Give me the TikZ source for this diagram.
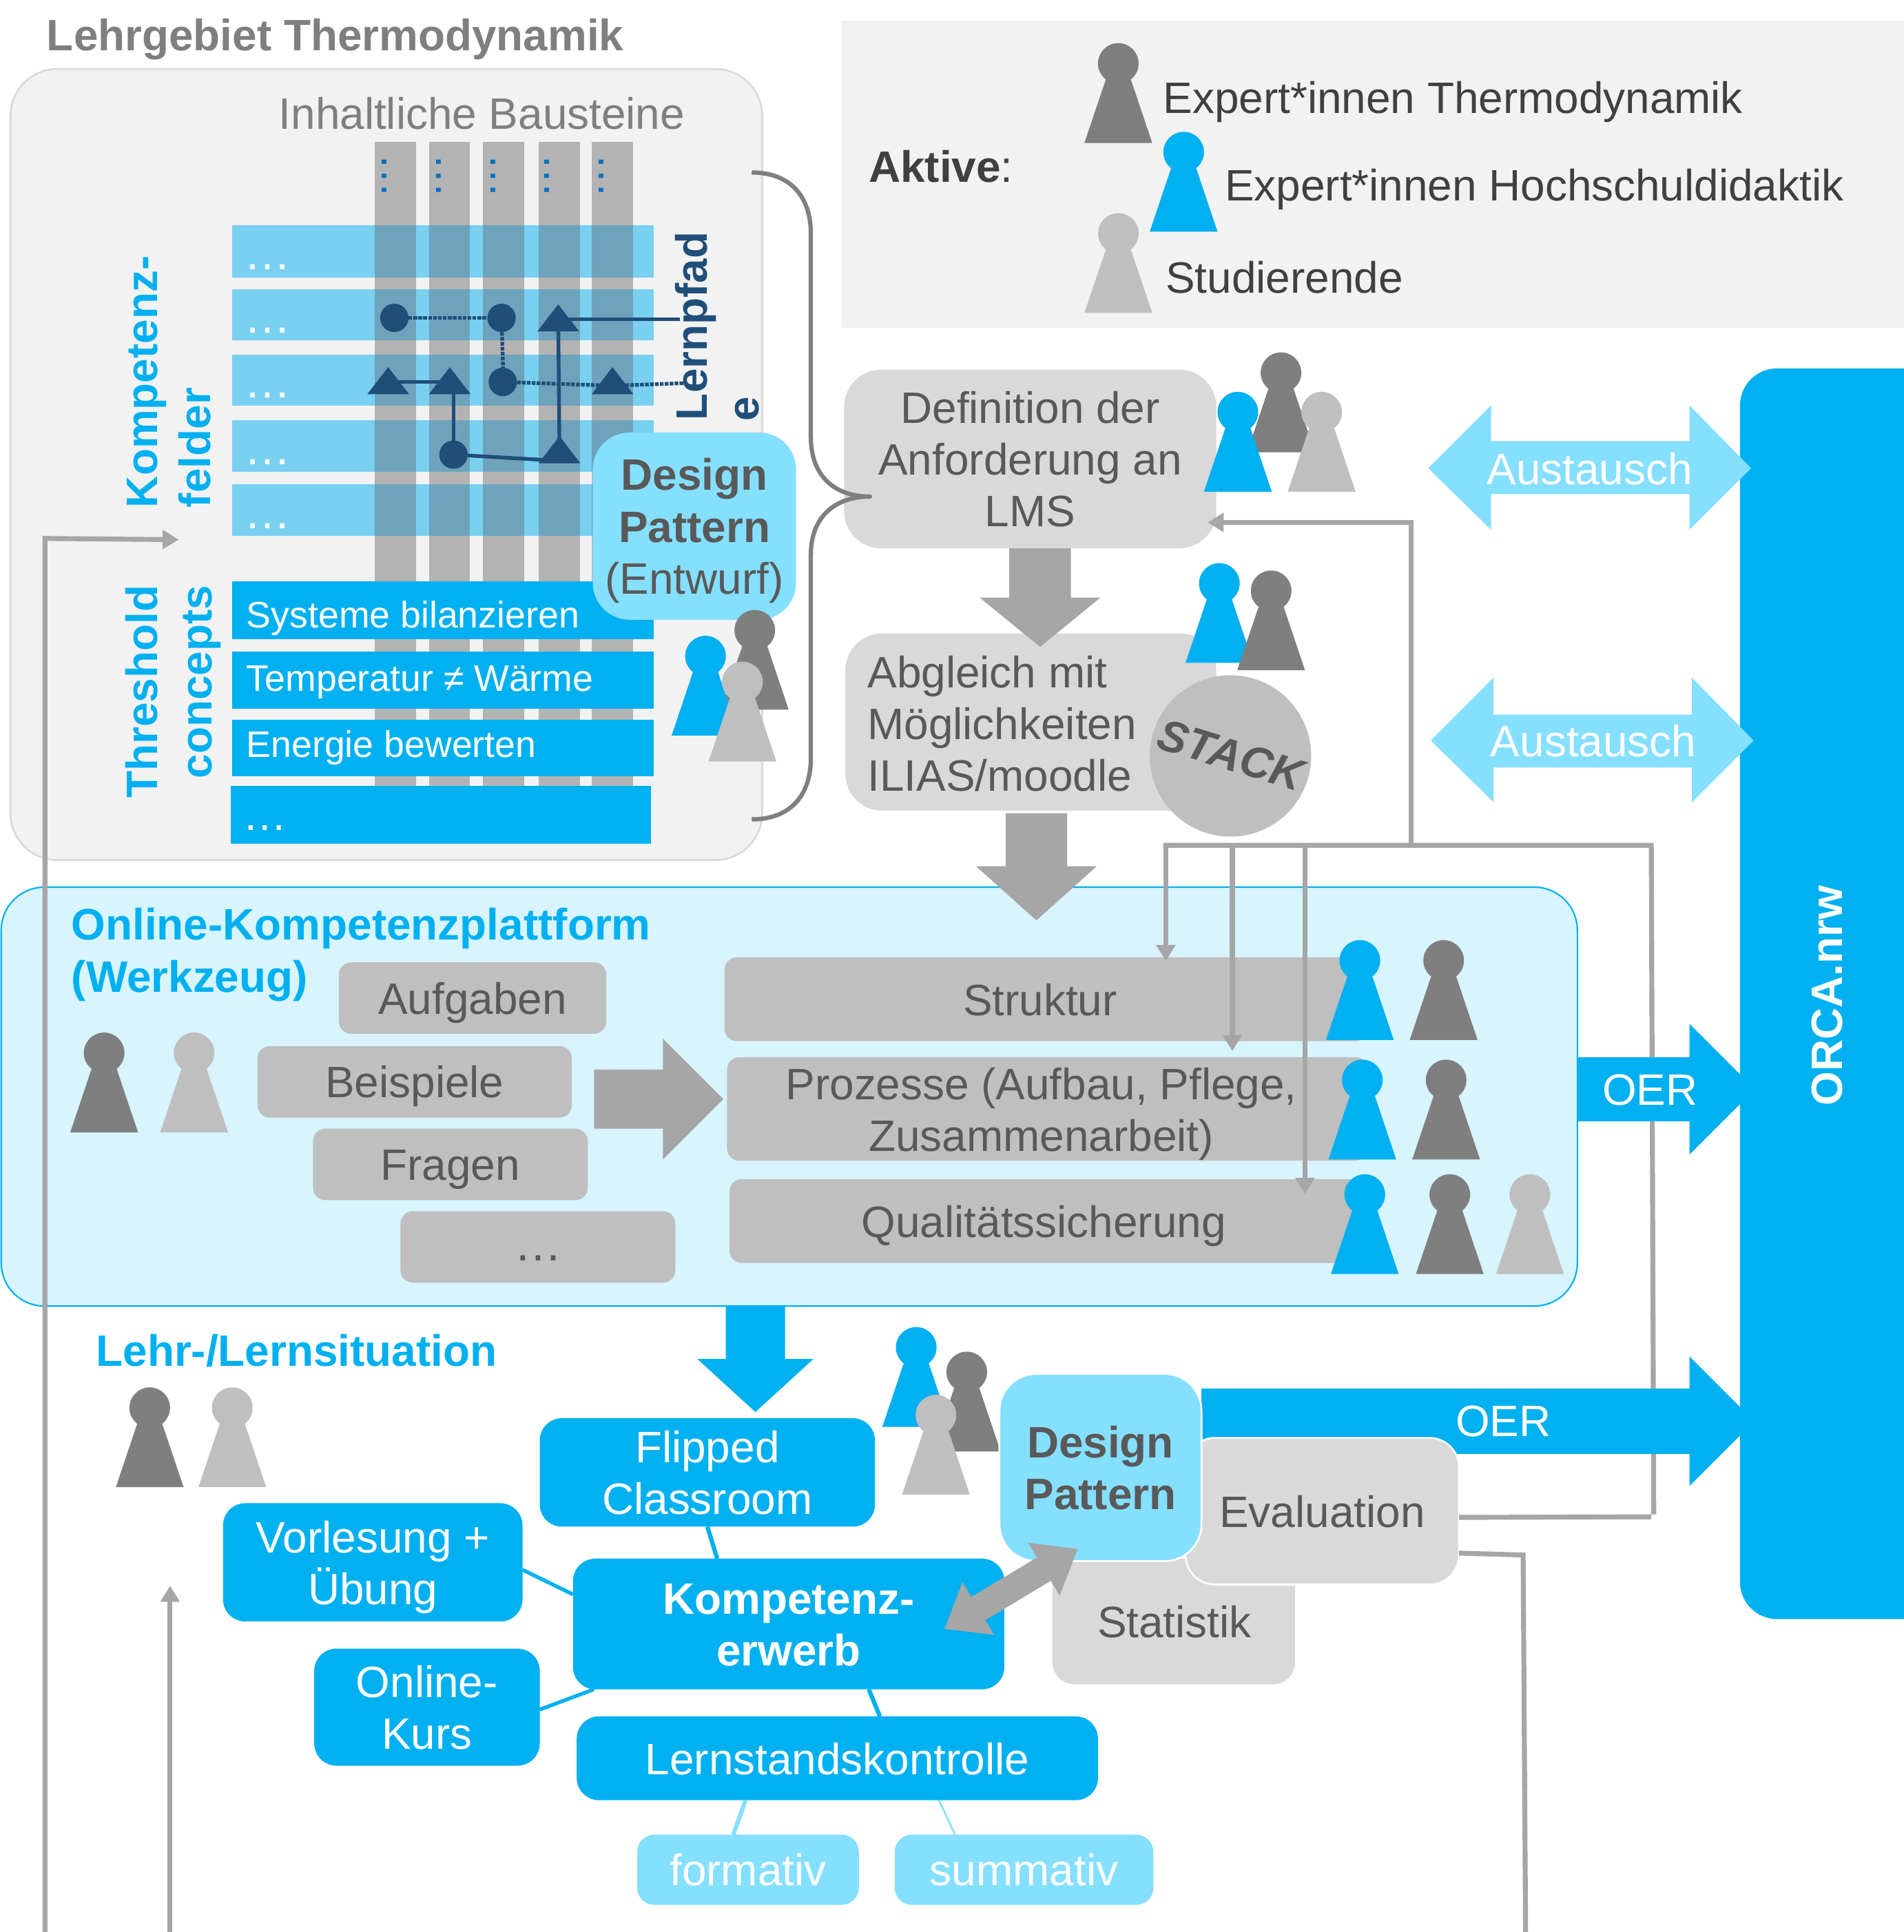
\documentclass[tikz,border=0pt]{standalone}
\usepackage{fontspec}
\setmainfont{Liberation Sans}
\usetikzlibrary{arrows.meta,calc}
\definecolor{cblue}{HTML}{00B0F0}
\definecolor{clight}{HTML}{85DFFF}
\definecolor{cpale}{HTML}{D7F4FF}
\definecolor{cdark}{HTML}{7F7F7F}
\definecolor{cmid}{HTML}{BFBFBF}
\definecolor{cbox}{HTML}{D9D9D9}
\definecolor{carrow}{HTML}{A6A6A6}
\definecolor{cbg}{HTML}{F2F2F2}
\definecolor{ctext}{HTML}{595959}
\definecolor{cnavy}{HTML}{1F4E79}
\definecolor{ccol}{HTML}{B3B3B3}
\definecolor{cband}{HTML}{79D0F1}
\definecolor{ccross}{HTML}{6DA3BB}
\definecolor{cdots}{HTML}{0070C0}
\definecolor{clegend}{HTML}{404040}
\newcommand\fs[1]{\fontsize{#1}{42}\selectfont}
\newcommand\nd[1]{\raisebox{0pt}[26pt][0pt]{#1}}
\newcommand\person[3]{%
  \fill[#3] (#1+0.5-27.5,#2) -- (#1+0.5+27.5,#2) -- (#1+0.5+9,#2-55) -- (#1+0.5-9,#2-55) -- cycle;
  \fill[#3] (#1+0.5,#2-64.5) circle (16.5);}
\newcommand\bx[7]{\node[#6,minimum width={(#4-#2)*1pt},minimum height={(#5-#3)*1pt}] (#1) at ({(#2+#4)/2},{(#3+#5)/2}) {#7};}
\newcommand\tri[3]{\coordinate (#1) at (#2,#3-10);\fill[cnavy] (#2-17,#3) -- (#2+17,#3) -- (#2,#3-22) -- cycle;}
\tikzset{
  every node/.style={inner sep=0pt,outer sep=0pt,align=center},
  sl/.style={text height=26pt,text depth=0pt},
  t/.style={font=\fs{35.7},text=ctext},
  tw/.style={font=\fs{35.7},text=white},
  head/.style={font=\bfseries\fs{35.7},text=cblue,sl},
  legendtext/.style={font=\fs{35.7},text=clegend,sl,anchor=west},
  bandtext/.style={font=\fs{30},text=white,text height=21.5pt,text depth=0pt,anchor=west},
  roundgrey/.style={fill=cmid,rounded corners=10pt,t},
  bluebox/.style={fill=cblue,rounded corners=18pt,tw},
  lightbox/.style={fill=clight,rounded corners=14pt,tw},
  feed/.style={draw=carrow,line width=4pt,-{Triangle[length=13pt,width=15pt]}},
  feedplain/.style={draw=carrow,line width=4pt},
  link/.style={draw=cblue,line width=3.5pt},
  lightlink/.style={draw=clight,line width=3.5pt},
  pathsolid/.style={draw=cnavy,line width=3pt},
  pathdot/.style={draw=cnavy,line width=3pt,densely dotted},
  pathdotnode/.style={circle,fill=cnavy,minimum size=23pt},
  dots/.style={font=\fs{38},text=white},
  rot/.style={rotate=90,font=\bfseries\fs{35.7},text=cblue,sl},
}
\begin{document}
\begin{tikzpicture}[x=1pt,y=-1pt]
\useasboundingbox (0,0) rectangle (1545,1568);
% --- Lehrgebiet
\node[anchor=west,font=\bfseries\fs{35.7},text=cdark,sl] (title) at (38,28) {Lehrgebiet Thermodynamik};
\bx{lehr}{8.5}{56}{618.5}{698}{fill=cbg,draw=cbox,line width=1.5pt,rounded corners=38pt}{}
\node[font=\fs{35.7},text=cdark,sl] (inh) at (391,92) {Inhaltliche Bausteine};
\foreach \xa in {304,348,392,437,480} \fill[ccol] (\xa,115) rectangle (\xa+33.5,640);
\foreach \ya/\yb in {183/225,235/276,288/329,341/383,393/435}{
  \fill[cband] (188.5,\ya) rectangle (530.5,\yb);
  \foreach \xa in {304,348,392,437,480} \fill[ccross] (\xa,\ya) rectangle (\xa+33.5,\yb);
  \node[dots] at (217,\yb-8) {…};
}
\foreach \xa in {312,356,400,444,488} \node[rotate=-90,font=\fs{36},text=cdots] at (\xa,143) {…};
\bx{th1}{188.5}{472}{530.5}{519}{fill=cblue}{}
\bx{th2}{188.5}{529}{530.5}{575}{fill=cblue}{}
\bx{th3}{188.5}{584}{530.5}{630}{fill=cblue}{}
\bx{th4}{187}{638}{528.5}{685}{fill=cblue}{}
\node[bandtext] at (200,499) {Systeme bilanzieren};
\node[bandtext] at (200,550) {Temperatur ≠ Wärme};
\node[bandtext] at (200,604) {Energie bewerten};
\node[font=\fs{36},text=white] at (215,672) {…};
% rotated labels
\node[rot,anchor=west] at (115,412) {Kompetenz-};
\node[rot,anchor=west] at (158,412) {felder};
\node[rot,anchor=east] at (115,475) {Threshold};
\node[rot,anchor=east] at (159,475) {concepts};
% Lernpfad
\node[pathdotnode] (d1) at (320,258) {};
\node[pathdotnode] (d2) at (407,258) {};
\node[pathdotnode] (d3) at (408,310) {};
\node[pathdotnode] (d4) at (368,369) {};
\tri{t1}{315}{320}\tri{t2}{365}{320}\tri{t3}{453}{269}\tri{t4}{497}{320}\tri{t5}{454}{376}
\coordinate (lp1) at (552,259);
\coordinate (lp2) at (555,311);
\draw[pathdot] (d1) -- (d2);
\draw[pathdot] ([xshift=2pt]d2) -- ([xshift=2pt]d3);
\draw[pathdot] ([yshift=-3pt]d3) -- ([yshift=-3pt]t4) -- (lp2);
\draw[pathsolid] (t1) -- (t2);
\draw[pathsolid] ([xshift=3pt]t2) -- (d4);
\draw[pathsolid] ([yshift=-4pt]d4) -- ([yshift=-8pt]t5);
\draw[pathsolid] (t5) -- (t3);
\draw[pathsolid] (t3) -- (lp1);
\node[rotate=90,anchor=west,font=\bfseries\fs{35.7},text=cnavy,sl] at (561,341) {Lernpfad};
\node[rotate=90,anchor=west,font=\bfseries\fs{35.7},text=cnavy,sl] at (603,342) {e};
\bx{dpa}{481}{351}{646}{503}{fill=clight,rounded corners=30pt,t}{\nd{\bfseries Design}\\\nd{\bfseries Pattern}\\\nd{(Entwurf)}}
\person{612}{576}{cdark}\person{572}{597}{cblue}\person{602}{618}{cmid}
% --- legend
\fill[cbg] (683,17) rectangle (1545,266);
\node[legendtext] at (705,135) {\textbf{Aktive}:};
\person{907}{116}{cdark}\person{960}{188}{cblue}\person{907}{254}{cmid}
\node[legendtext] at (944,79) {Expert*innen Thermodynamik};
\node[legendtext] at (994,150) {Expert*innen Hochschuldidaktik};
\node[legendtext] at (946,225) {Studierende};
% --- platform
\bx{plat}{1}{720}{1280}{1060}{fill=cpale,draw=cblue,line width=1.2pt,rounded corners=35pt}{}
\node[anchor=west,head] at (58,750) {Online-Kompetenzplattform};
\node[anchor=west,head] at (58,792) {(Werkzeug)};
\person{84}{919}{cdark}\person{157}{919}{cmid}
\bx{auf}{275}{781}{492}{839}{roundgrey,sl}{Aufgaben}
\bx{bei}{209}{849}{464}{907}{roundgrey,sl}{Beispiele}
\bx{fra}{254}{916}{477}{974}{roundgrey,sl}{Fragen}
\bx{mor}{325}{983}{548}{1041}{roundgrey}{}
\node[font=\fs{39},text=ctext] at (437,1021) {…};
\fill[carrow] (482,868) -- (538,868) -- (538,843) -- (587,892) -- (538,941) -- (538,916) -- (482,916) -- cycle;
\bx{str}{588}{777}{1110}{845}{roundgrey}{}
\node[t,sl] at (844,811) {Struktur};
\bx{pro}{590}{858}{1110}{942}{roundgrey}{}
\node[t] at (845,900.5) {\nd{Prozesse (Aufbau, Pflege,}\\\nd{Zusammenarbeit)}};
\bx{qua}{592}{957}{1110}{1025}{roundgrey}{}
\node[t,sl] at (847,991) {Qualitätssicherung};
\person{1103}{844}{cblue}\person{1171}{844}{cdark}
\person{1105}{941}{cblue}\person{1173}{941}{cdark}
\person{1107}{1034}{cblue}\person{1176}{1034}{cdark}\person{1241}{1034}{cmid}
% --- Definition / Abgleich
\bx{abg}{686}{514}{987}{658}{fill=cbox,rounded corners=30pt}{}
\node[anchor=west,t,align=left] at (704,587) {\nd{Abgleich mit}\\\nd{Möglichkeiten}\\\nd{ILIAS/moodle}};
\bx{stack}{933}{548}{1064}{679}{circle,fill=cmid}{}
\node[rotate=-17,font=\bfseries\itshape\fs{36},text=ctext,sl] at (999,612) {STACK};
\bx{def}{685}{300}{987}{445}{fill=cbox,rounded corners=30pt,t}{\nd{Definition der}\\\nd{Anforderung an}\\\nd{LMS}}
\person{1039}{367}{cdark}\person{1004}{399}{cblue}\person{1072}{399}{cmid}
\person{989}{538}{cblue}\person{1031}{544}{cdark}
\fill[carrow] (819,445) -- (869,445) -- (869,485) -- (893,485) -- (844,525) -- (795,485) -- (819,485) -- cycle;
\fill[carrow] (816,660) -- (866,660) -- (866,703) -- (890,703) -- (841,747) -- (792,703) -- (816,703) -- cycle;
% brace
\coordinate (brT) at (610,140);\coordinate (brM) at (706,403);\coordinate (brB) at (610,665);
\draw[cdark,line width=3.5pt,line join=round] (brT) .. controls (640,140) and (658,158) .. (658,190) -- (658,355) .. controls (658,385) and (676,403) .. (brM) .. controls (676,403) and (658,421) .. (658,450) -- (658,615) .. controls (658,647) and (640,665) .. (brB);
% thin feedback lines
\coordinate (hubL) at (946,686);\coordinate (hubM) at (1000,686);\coordinate (hubR) at (1059,686);\coordinate (hubU) at (1145,686);\coordinate (hubE) at (1338,686);
\coordinate (a1) at (946,780);\coordinate (a2) at (1000,853);\coordinate (a3) at (1059,969);
\coordinate (corn1) at (1340,1231);\coordinate (corn2) at (1236,1262);\coordinate (bot3) at (1238,1568);
\draw[feedplain,line join=miter] ([xshift=-2pt]hubL) -- ([xshift=2pt]hubE) -- ([xshift=2pt,yshift=2pt]corn1);
\draw[feed] (hubL) -- (a1);
\draw[feed] (hubM) -- (a2);
\draw[feed] (hubR) -- (a3);
\draw[feed] (hubU) |- ([xshift=-7pt,yshift=-51.5pt]def.east);
% --- ORCA
\begin{scope}
\clip (0,0) rectangle (1545,1568);
\fill[cblue] (1280,858) -- (1371,858) -- (1371,831) -- (1424,884) -- (1371,937) -- (1371,910) -- (1280,910) -- cycle;
\fill[cblue,rounded corners=30pt] (1412,299) rectangle (1580,1314);
\end{scope}
\node[rotate=90,font=\bfseries\fs{35.7},text=white,sl] (orca) at (1482,808) {ORCA.nrw};
\node[tw,sl] (oer1) at (1339,884) {OER};
\fill[clight] (1159,380) -- (1210,329) -- (1210,358) -- (1371,358) -- (1371,329) -- (1421,380) -- (1371,430) -- (1371,401) -- (1210,401) -- (1210,430) -- cycle;
\node[tw,sl] at (1290,380) {Austausch};
\fill[clight] (1161,601) -- (1212,550) -- (1212,580) -- (1373,580) -- (1373,550) -- (1423,601) -- (1373,651) -- (1373,623) -- (1212,623) -- (1212,651) -- cycle;
\node[tw,sl] at (1293,601) {Austausch};
% --- Lehr-/Lernsituation
\fill[cblue] (589,1060) -- (637,1060) -- (637,1103) -- (660,1103) -- (613,1146) -- (566,1103) -- (589,1103) -- cycle;
\node[anchor=west,head] at (78,1096) {Lehr-/Lernsituation};
\person{121}{1207}{cdark}\person{188}{1207}{cmid}
\person{743}{1158}{cblue}\person{784}{1178}{cdark}\person{759}{1213}{cmid}
\bx{fli}{438}{1151}{710}{1239}{bluebox}{\nd{Flipped}\\\nd{Classroom}}
\bx{vor}{181}{1220}{424}{1316}{bluebox}{\nd{Vorlesung +}\\\nd{Übung}}
\bx{onl}{255}{1338}{438}{1433}{bluebox}{\nd{Online-}\\\nd{Kurs}}
\bx{kom}{465}{1265}{815}{1371}{bluebox,font=\bfseries\fs{35.7}}{\nd{Kompetenz-}\\\nd{erwerb}}
\bx{ler}{468}{1393}{891}{1461}{bluebox,sl}{Lernstandskontrolle}
\bx{for}{517}{1489}{697}{1546}{lightbox,sl}{formativ}
\bx{sum}{726}{1489}{936}{1546}{lightbox,sl}{summativ}
\draw[link] (fli.south) -- ([xshift=117pt]kom.north west);
\draw[link,line width=3pt] ([yshift=-6pt]vor.east) -- ([yshift=24pt]kom.west);
\draw[link,line width=3pt] ([yshift=-2pt]onl.east) -- ([xshift=17pt]kom.south west);
\draw[link] ([xshift=240pt]kom.south west) -- ([xshift=246pt]ler.north west);
\draw[lightlink] ([xshift=137pt]ler.south west) -- ([xshift=78pt]for.north west);
\draw[lightlink,line width=1.5pt] ([xshift=294pt]ler.south west) -- ([xshift=49pt]sum.north west);
% evaluation group
\coordinate (bot1) at (36.5,1568);\coordinate (up1) at (36.5,437);\coordinate (tip1) at (145,438);
\coordinate (bot2) at (138,1568);\coordinate (tip2) at (138,1287);
\bx{sta}{854}{1265}{1051}{1367}{fill=cbox,rounded corners=18pt}{}
\node[t,sl] at (953,1316) {Statistik};
\fill[cblue] (975,1127) -- (1371,1127) -- (1371,1101) -- (1412,1142) -- (1412,1165) -- (1371,1206) -- (1371,1180) -- (975,1180) -- cycle;
\node[tw,sl] at (1220,1153) {OER};
\bx{eva}{962}{1167}{1184}{1286}{fill=cbox,draw=white,line width=1.5pt,rounded corners=24pt,t,sl}{Evaluation}
\draw[feedplain] ([yshift=-5pt]eva.east) -- (corn1);
\draw[feedplain] ([yshift=-34pt]eva.east) -- (corn2) -- (bot3);
\bx{dpb}{811}{1115}{975}{1267}{fill=clight,draw=white,line width=1.5pt,rounded corners=30pt,t}{\nd{\bfseries Design}\\\nd{\bfseries Pattern}}
\begin{scope}[shift={(820.5,1289.5)},rotate=31]
\fill[carrow] (-63,0) -- (-31,-25) -- (-31,-11) -- (31,-11) -- (31,-25) -- (63,0) -- (31,25) -- (31,11) -- (-31,11) -- (-31,25) -- cycle;
\end{scope}
% long feedback arrows
\draw[feed,line join=miter] (bot1) -- (up1) -- (tip1);
\draw[feed] (bot2) -- (tip2);
\end{tikzpicture}
\end{document}
